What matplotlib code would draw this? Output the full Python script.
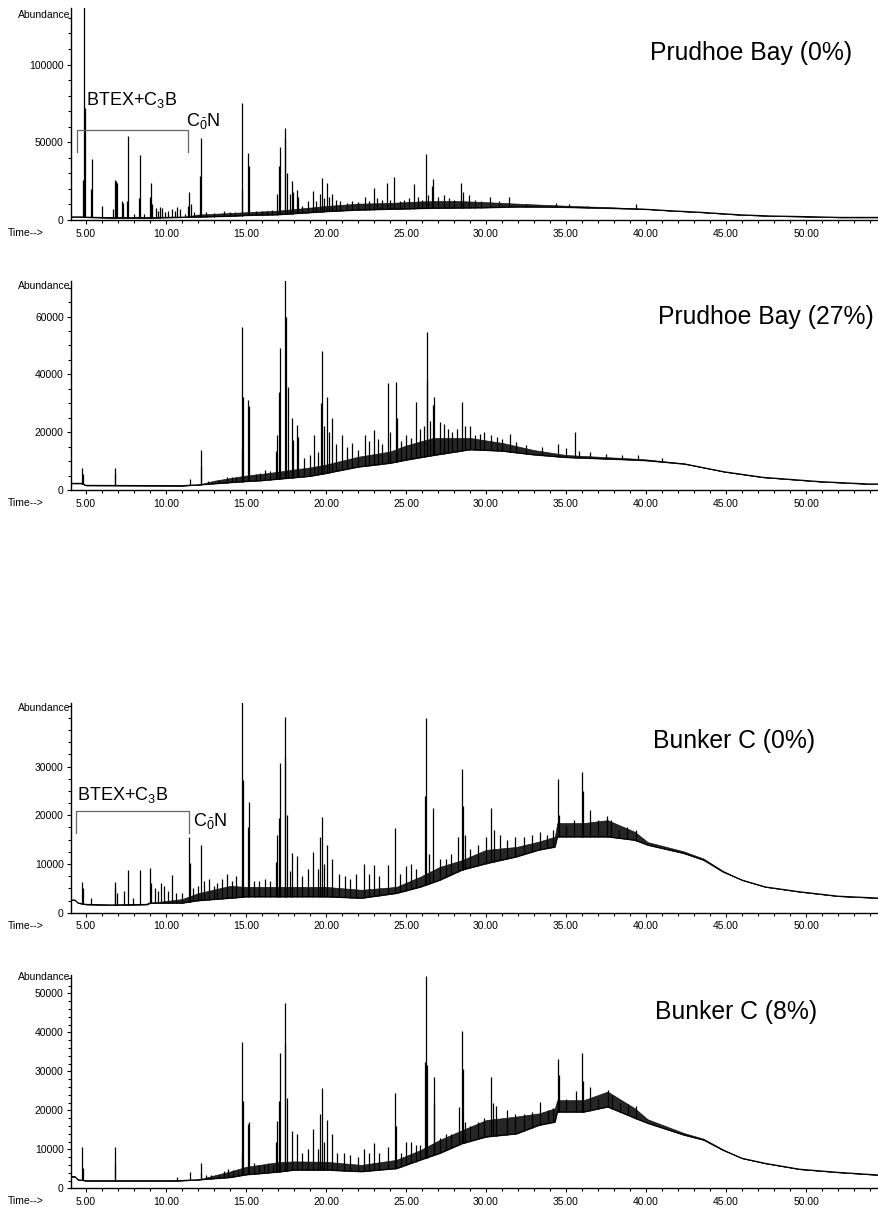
import numpy as np
import matplotlib
matplotlib.use("Agg")
import matplotlib.pyplot as plt
from matplotlib.ticker import FixedLocator, MultipleLocator, FormatStrFormatter

plt.rcParams['font.family'] = ['Liberation Sans', 'DejaVu Sans']

# ---------------- data (time in min, abundance) ----------------
TITLES = ["Prudhoe Bay (0%)", "Prudhoe Bay (27%)", "Bunker C (0%)", "Bunker C (8%)"]
X_TICKS = [5, 10, 15, 20, 25, 30, 35, 40, 45, 50]

# Panel 1 : Prudhoe Bay (0%)
P1_BASE_T = [4.06, 4.7, 5.0, 6.5, 9.0, 11.0, 12.0, 14.0, 15.0, 17.0, 18.5, 20.0, 22.0, 24.0, 26.0,
             28.0, 30.0, 32.0, 34.0, 35.0, 38.0, 40.0, 41.5, 43.4, 45.8, 47.8, 50.0, 52.1, 54.6]
P1_BASE_V = [2000, 2000, 1800, 1500, 1500, 1800, 2000, 2500, 3000, 3500, 4500, 5500, 6500, 7000, 7500,
             7800, 8000, 8500, 8400, 8200, 7500, 6900, 6000, 5000, 3400, 2600, 2200, 1700, 1700]
P1_GRASS = [0, 0, 0, 0, 0, 0, 1500, 2000, 2000, 2500, 3000, 3500, 4000, 4000, 4500,
            4500, 3500, 2000, 1200, 1000, 600, 300, 0, 0, 0, 0, 0, 0, 0]
P1_PEAK_T = [4.78, 4.88, 4.92, 5.33, 5.37, 6.02, 6.68, 6.78, 6.85, 6.96, 7.22, 7.33, 7.54, 7.65, 7.97,
             8.30, 8.37, 8.62, 9.00, 9.05, 9.12, 9.35, 9.50, 9.62, 9.75, 9.95, 10.15, 10.35, 10.55,
             10.70, 10.85, 11.20, 11.40, 11.46, 11.55, 11.75, 12.15, 12.21, 12.5, 13.0, 13.6, 14.0,
             14.3, 14.73, 14.77, 15.12, 15.18, 15.6, 16.0, 16.3, 16.6, 16.92, 17.08, 17.13, 17.42,
             17.46, 17.55, 17.75, 17.86, 17.95, 18.17, 18.25, 18.5, 18.9, 19.17, 19.4, 19.63, 19.72,
             19.85, 20.04, 20.2, 20.37, 20.6, 20.9, 21.3, 21.6, 22.0, 22.44, 22.7, 23.0, 23.2, 23.5,
             23.83, 24.0, 24.25, 24.6, 24.9, 25.2, 25.52, 25.75, 26.0, 26.23, 26.4, 26.62, 26.67,
             27.0, 27.4, 27.7, 28.0, 28.42, 28.55, 28.96, 29.3, 29.7, 30.25, 30.8, 31.42, 32.5,
             34.4, 35.2, 36.3, 39.4]
P1_PEAK_H = [26000, 140000, 72000, 20000, 39000, 9000, 7000, 26000, 25000, 24000, 12000, 11000, 12000,
             54000, 4000, 14000, 42000, 4000, 15000, 23500, 10000, 8000, 6000, 8500, 8000, 5000, 6000,
             7000, 5500, 8500, 7000, 4000, 9000, 18000, 10000, 5000, 28000, 53000, 5000, 4500, 5500,
             5000, 5000, 20000, 75000, 43000, 35000, 6000, 6000, 6000, 6500, 17000, 35000, 47000,
             53000, 59000, 30000, 17000, 25000, 18000, 19000, 15000, 9000, 12000, 18400, 12000, 17000,
             26800, 14000, 23600, 15000, 16700, 13000, 12000, 11000, 12000, 11500, 14600, 12000, 20400,
             14000, 13000, 23600, 13000, 27900, 12000, 13000, 14000, 23000, 15000, 13000, 42300, 16000,
             22000, 26200, 15000, 16000, 14000, 13000, 24000, 18000, 16000, 13000, 12500, 14500, 12000,
             14500, 10500, 11000, 10000, 9000, 10000]

# Panel 2 : Prudhoe Bay (27%)
P2_BASE_T = [4.06, 4.7, 5.0, 11.0, 12.0, 13.0, 14.0, 15.0, 16.0, 17.0, 18.0, 19.0, 20.0, 22.0, 24.0,
             25.0, 26.7, 29.0, 31.0, 33.0, 35.0, 38.8, 40.0, 42.4, 44.9, 47.3, 50.9, 53.9, 54.6]
P2_BASE_V = [2300, 2300, 1600, 1500, 1800, 2200, 2600, 3000, 3300, 3800, 4300, 4800, 5800, 8000, 9300,
             10400, 12000, 14000, 13500, 12200, 11300, 10500, 10200, 9000, 6300, 4400, 2900, 2100, 2100]
P2_GRASS = [0, 0, 0, 0, 0, 1000, 1500, 2000, 2300, 2500, 2800, 3000, 3000, 3500, 4000,
            5000, 6000, 4000, 2800, 1600, 800, 500, 400, 200, 0, 0, 0, 0, 0]
P2_PEAK_T = [4.73, 4.80, 6.79, 6.81, 11.5, 12.18, 12.21, 12.6, 13.3, 13.8, 14.1, 14.4, 14.73, 14.77,
             14.82, 15.15, 15.2, 15.6, 15.9, 16.2, 16.5, 16.88, 16.92, 17.08, 17.13, 17.44, 17.5, 17.6,
             17.86, 17.92, 18.17, 18.23, 18.6, 19.0, 19.25, 19.5, 19.68, 19.73, 19.85, 20.06, 20.2,
             20.38, 20.6, 21.0, 21.3, 21.6, 22.0, 22.42, 22.7, 23.0, 23.25, 23.5, 23.87, 24.0, 24.35,
             24.45, 24.7, 25.0, 25.3, 25.62, 25.9, 26.1, 26.28, 26.33, 26.5, 26.7, 26.74, 27.1, 27.35,
             27.6, 27.9, 28.2, 28.51, 28.7, 28.97, 29.3, 29.6, 29.9, 30.3, 30.7, 31.0, 31.47, 31.9,
             32.5, 33.5, 34.5, 35.0, 35.59, 35.8, 36.5, 37.5, 38.5, 39.5, 41.0]
P2_PEAK_H = [7700, 5700, 5500, 7700, 3700, 8300, 13800, 3000, 3500, 4500, 4500, 4500, 14000, 56500,
             32000, 31100, 29200, 5500, 6000, 7000, 6500, 13500, 19000, 33800, 49000, 75000, 60000, 35500,
             24800, 17300, 22500, 18400, 11000, 12000, 19000, 13000, 30000, 48200, 22000, 32100, 20000,
             24800, 16000, 19000, 15000, 16100, 14000, 19000, 17000, 20800, 17800, 16000, 37100, 20000,
             37500, 25000, 17000, 19000, 18000, 30300, 21000, 22000, 38000, 54800, 24000, 29500, 32100,
             23600, 23000, 21000, 20000, 21000, 30300, 22000, 22000, 19000, 19500, 20000, 19000, 18500,
             17500, 19500, 16500, 15500, 15000, 16000, 14500, 20200, 13500, 13000, 12500, 12000, 12000,
             11000]

# Panel 3 : Bunker C (0%)
P3_BASE_T = [4.06, 4.3, 4.5, 5.0, 6.6, 8.8, 9.0, 11.0, 12.0, 14.0, 15.0, 18.0, 20.0, 22.2, 24.4, 25.9,
             27.1, 28.5, 30.0, 31.9, 33.3, 34.3, 34.45, 36.1, 37.6, 39.3, 40.1, 42.35, 43.6, 44.8, 46.0,
             47.45, 49.6, 52.0, 54.6]
P3_BASE_V = [2600, 2600, 2000, 1700, 1600, 1700, 2000, 2000, 2500, 3000, 3300, 3300, 3300, 3000, 4000,
             5300, 6700, 8800, 10100, 11500, 12900, 13500, 15600, 15600, 15600, 14900, 13900, 12200,
             10800, 8400, 6700, 5300, 4300, 3400, 3000]
P3_GRASS = [0, 0, 0, 0, 0, 0, 0, 800, 1500, 2500, 2000, 2000, 2000, 1700, 1300, 2100, 2700, 2000, 2800,
            2000, 1700, 2100, 2800, 2800, 3400, 1700, 600, 400, 300, 200, 0, 0, 0, 0, 0]
P3_PEAK_T = [4.72, 4.78, 5.3, 6.78, 6.83, 6.95, 7.35, 7.64, 7.95, 8.37, 9.0, 9.05, 9.3, 9.5, 9.7, 9.85,
             10.1, 10.4, 10.6, 11.0, 11.46, 11.52, 11.7, 12.0, 12.21, 12.4, 12.7, 13.0, 13.2, 13.5, 13.8,
             14.1, 14.4, 14.73, 14.77, 14.8, 15.12, 15.2, 15.5, 15.8, 16.2, 16.5, 16.88, 16.92, 17.08,
             17.13, 17.42, 17.46, 17.55, 17.75, 17.9, 18.2, 18.5, 18.9, 19.2, 19.5, 19.65, 19.73, 19.9,
             20.06, 20.4, 20.8, 21.2, 21.5, 21.9, 22.4, 22.7, 23.0, 23.3, 23.9, 24.31, 24.6, 25.0, 25.3,
             25.6, 26.2, 26.23, 26.45, 26.71, 27.1, 27.5, 27.8, 28.27, 28.5, 28.55, 28.7, 29.0, 29.5,
             30.0, 30.31, 30.5, 30.85, 31.3, 31.8, 32.4, 32.9, 33.4, 33.8, 34.2, 34.48, 34.55, 35.0,
             35.5, 35.98, 36.05, 36.5, 37.0, 37.55, 37.8, 38.3, 38.8, 39.4]
P3_PEAK_H = [6200, 5000, 3000, 6200, 5000, 4000, 4500, 8800, 3000, 8800, 9100, 6000, 5000, 4500, 6000,
             5500, 4500, 7700, 4000, 4000, 15600, 10300, 5000, 5500, 13900, 6500, 7000, 5500, 6000, 7000,
             8000, 6500, 7500, 7000, 45000, 27200, 17500, 22800, 6500, 6500, 7000, 6500, 10500, 16000,
             19500, 30700, 32000, 40100, 20000, 8500, 12300, 11700, 7500, 9000, 12500, 9000, 15600, 19600,
             10000, 13900, 11000, 8000, 7500, 7000, 8000, 10000, 8000, 9800, 7500, 9800, 17300, 8000,
             9500, 10000, 9000, 24000, 39900, 12000, 21400, 11000, 11000, 12000, 15600, 29600, 22000,
             16000, 13000, 14000, 15500, 21400, 17000, 16000, 15000, 15500, 15500, 16000, 16600, 16000,
             17000, 27400, 20000, 18000, 19000, 28800, 25000, 21000, 19000, 19900, 19000, 17000, 17500,
             17000]

# Panel 4 : Bunker C (8%)
P4_BASE_T = [4.06, 4.3, 4.5, 5.0, 10.5, 11.0, 12.0, 13.0, 14.0, 15.0, 17.0, 18.0, 20.0, 22.2, 24.4,
             25.9, 27.1, 28.5, 30.0, 31.9, 33.3, 34.3, 34.45, 36.1, 37.6, 39.3, 40.1, 42.35, 43.6, 44.8,
             46.0, 47.45, 49.6, 52.0, 54.6]
P4_BASE_V = [3000, 3000, 2200, 1950, 1950, 2000, 2200, 2500, 2800, 3500, 4200, 4700, 4700, 4300, 5100,
             7300, 9000, 11500, 13200, 14000, 16200, 17000, 19600, 19600, 20900, 18000, 16700, 13700,
             12400, 9800, 7700, 6400, 4900, 4100, 3400]
P4_GRASS = [0, 0, 0, 0, 0, 0, 0, 800, 1500, 2000, 2500, 2200, 2100, 1700, 2200, 2500, 3400, 3400, 4300,
            4400, 3000, 3500, 3000, 3000, 3900, 2500, 1000, 500, 300, 200, 0, 0, 0, 0, 0]
P4_PEAK_T = [4.73, 4.80, 6.79, 6.81, 10.7, 11.5, 12.18, 12.21, 12.5, 12.8, 13.3, 13.6, 13.9, 14.2, 14.5,
             14.73, 14.77, 14.82, 15.12, 15.2, 15.5, 15.8, 16.1, 16.4, 16.7, 16.88, 16.92, 17.08, 17.13,
             17.42, 17.46, 17.55, 17.9, 18.2, 18.5, 18.9, 19.2, 19.5, 19.65, 19.73, 19.9, 20.06, 20.35,
             20.7, 21.1, 21.5, 22.0, 22.4, 22.7, 23.0, 23.3, 23.9, 24.31, 24.36, 24.7, 25.0, 25.3, 25.6,
             25.9, 26.18, 26.23, 26.3, 26.72, 26.76, 27.1, 27.5, 27.8, 28.3, 28.5, 28.55, 28.7, 29.0,
             29.5, 29.9, 30.3, 30.45, 30.6, 31.3, 31.8, 32.4, 32.9, 33.4, 33.9, 34.2, 34.48, 34.55, 35.0,
             35.6, 36.0, 36.05, 36.5, 37.0, 37.6, 37.9, 38.4, 38.9, 39.4]
P4_PEAK_H = [10500, 5300, 6500, 10500, 2800, 4100, 4000, 6400, 3500, 3500, 3500, 4500, 5000, 4800, 4500,
             8500, 37600, 22500, 16500, 17100, 6500, 6000, 6000, 6500, 6000, 12000, 17200, 22500, 34800,
             37000, 47600, 23100, 14600, 13800, 9000, 10000, 15100, 10000, 19000, 25600, 12000, 17500,
             14000, 9000, 9000, 8500, 8000, 10000, 9000, 11700, 9000, 10600, 24400, 16000, 9000, 12000,
             12000, 11000, 11000, 32500, 54400, 31500, 28500, 22000, 13000, 14000, 14000, 20900, 40400,
             30500, 17000, 16000, 17000, 18000, 28500, 22000, 21000, 20000, 19000, 19000, 19500, 22200,
             20000, 20500, 33100, 29000, 23000, 25000, 34800, 27500, 26000, 23000, 25200, 24000, 22000,
             21500, 21000]

Y_MAX = [136400, 72300, 43050, 54700]
Y_MAJOR = [[0, 50000, 100000], [0, 20000, 40000, 60000], [0, 10000, 20000, 30000],
           [0, 10000, 20000, 30000, 40000, 50000]]
Y_MINOR_STEP = [10000, 5000, 2500, 2000]

BASES = [(P1_BASE_T, P1_BASE_V, P1_GRASS, P1_PEAK_T, P1_PEAK_H),
         (P2_BASE_T, P2_BASE_V, P2_GRASS, P2_PEAK_T, P2_PEAK_H),
         (P3_BASE_T, P3_BASE_V, P3_GRASS, P3_PEAK_T, P3_PEAK_H),
         (P4_BASE_T, P4_BASE_V, P4_GRASS, P4_PEAK_T, P4_PEAK_H)]

# ---------------- layout (pixels) ----------------
W, H = 879, 1214
AX_LEFT_PX = 71
AX_BOTTOM_PX = [220, 490, 912.7, 1188.3]
AX_TOP_PX = [8, 281, 703, 975]
TITLE_XY = [(650, 53), (658, 317), (653, 741), (655, 1012)]
ABUND_Y = [15, 286, 708, 977]

fig = plt.figure(figsize=(W / 100, H / 100), dpi=100)

def fx(px):
    return px / W

def fy(py):
    return 1 - py / H

for i in range(4):
    bt, bv, gr, pt, ph = [np.asarray(a, dtype=float) for a in BASES[i]]
    b, t = AX_BOTTOM_PX[i], AX_TOP_PX[i]
    ax = fig.add_axes([fx(AX_LEFT_PX), fy(b), 1 - fx(AX_LEFT_PX), (b - t) / H])
    ax.set_xlim(4.06, 54.56)
    ax.set_ylim(0, Y_MAX[i])

    ax.fill_between(bt, bv, bv + gr, color='black', alpha=0.85, lw=0.5, edgecolor='black')
    ax.plot(bt, bv, color='black', lw=0.8)
    foot = np.interp(pt, bt, bv)
    ax.vlines(pt, foot, ph, color='black', lw=0.9)

    for s in ['top', 'right']:
        ax.spines[s].set_visible(False)
    ax.spines['left'].set_linewidth(1.0)
    ax.spines['bottom'].set_linewidth(1.0)

    ax.xaxis.set_major_locator(FixedLocator(X_TICKS))
    ax.xaxis.set_minor_locator(MultipleLocator(1))
    ax.xaxis.set_major_formatter(FormatStrFormatter('%.2f'))
    ax.yaxis.set_major_locator(FixedLocator(Y_MAJOR[i]))
    ax.yaxis.set_minor_locator(MultipleLocator(Y_MINOR_STEP[i]))
    ax.yaxis.set_major_formatter(FormatStrFormatter('%d'))
    ax.tick_params(axis='both', which='major', length=3.2, width=0.8, labelsize=7.5, pad=2)
    ax.tick_params(axis='both', which='minor', length=2.2, width=0.8)
    ax.tick_params(axis='x', which='major', pad=3)

    fig.text(fx(TITLE_XY[i][0]), fy(TITLE_XY[i][1]), TITLES[i], fontsize=17.8,
             ha='left', va='center')
    fig.text(fx(70), fy(ABUND_Y[i]), "Abundance", fontsize=7.5, ha='right', va='center')
    fig.text(fx(8), fy(b + 13), "Time-->", fontsize=7.5, ha='left', va='center')

# annotations: BTEX+C3B bracket and C0-N label
BRACKETS = [(0, 77, 188, 130, 152, 86, 100, 186, 121), (2, 76, 189, 811, 833, 77, 795, 193, 821)]
for (i, x0, x1, yb, yd, tx, ty, cx, cy) in BRACKETS:
    fig.add_artist(plt.Line2D([fx(x0), fx(x0), fx(x1), fx(x1)],
                              [fy(yd), fy(yb), fy(yb), fy(yd)],
                              color='#666666', lw=0.9, transform=fig.transFigure))
    fig.text(fx(tx), fy(ty), r"BTEX+C$_\mathregular{3}$B", fontsize=13, ha='left', va='center')
    fig.text(fx(cx), fy(cy), r"C$_\mathregular{\bar{0}}$N", fontsize=13, ha='left', va='center')

fig.savefig("out.png", dpi=100)
